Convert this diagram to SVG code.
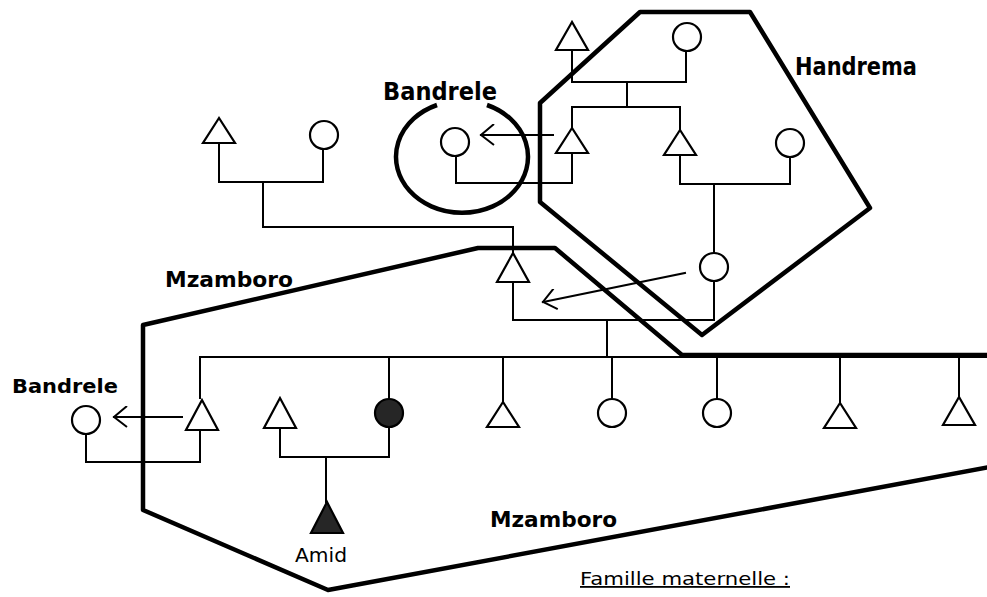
<svg xmlns="http://www.w3.org/2000/svg" width="987" height="597" viewBox="0 0 987 597">
<style>
.bg{fill:#fff}
.ln{fill:none;stroke:#000;stroke-width:2;stroke-linecap:square}
.sym{fill:#fff;stroke:#000;stroke-width:2.2;stroke-linejoin:miter}
.filled{fill:#262626;stroke:#000;stroke-width:2.2}
.grp{fill:none;stroke:#000;stroke-width:4.5;stroke-linejoin:round}
.lbl{font-family:"DejaVu Sans","Liberation Sans",sans-serif;font-weight:bold;fill:#000}
.reg{font-family:"DejaVu Sans","Liberation Sans",sans-serif;fill:#000}
</style>
<defs>
<marker id="chev" viewBox="-15 -11 17 22" refX="0" refY="0" markerWidth="17" markerHeight="22" markerUnits="userSpaceOnUse" orient="auto">
<path d="M-13,-10 L0,0 L-13,11" fill="none" stroke="#000" stroke-width="2"/>
</marker>
</defs>
<rect class="bg" x="0" y="0" width="987" height="597"/>

<g id="groups">
<polygon id="handrema-zone" class="grp" points="640,12 750,12 870,208 702,335 540,202 540,103"/>
<polyline id="mzamboro-zone" class="grp" points="990,355 682,355 555,248 478,248 143,325 143,510 328,590 990,467"/>
<path id="bandrele-zone" class="grp" d="M487,105 A66,56 0 1,1 437,105"/>
</g>

<g id="connectors">
<polyline class="ln" points="572,50 572,82 686,82 686,51"/>
<polyline class="ln" points="627,82 627,107"/>
<polyline class="ln" points="572,128 572,107 680,107 680,130"/>
<polyline class="ln" points="572,153 572,183 456,183 456,156"/>
<polyline class="ln" points="680,155 680,184 790,184 790,157"/>
<polyline class="ln" points="714,184 714,253"/>
<polyline class="ln" points="714,281 714,320 513,320 513,282"/>
<polyline class="ln" points="219,143 219,182 323,182 323,149"/>
<polyline class="ln" points="263,182 263,227 513,227 513,253"/>
<polyline class="ln" points="607,320 607,357"/>
<polyline class="ln" points="200,398 200,357 987,357"/>
<line class="ln" x1="389" y1="357" x2="389" y2="399"/>
<line class="ln" x1="503" y1="357" x2="503" y2="402"/>
<line class="ln" x1="612" y1="357" x2="612" y2="399"/>
<line class="ln" x1="717" y1="357" x2="717" y2="399"/>
<line class="ln" x1="840" y1="357" x2="840" y2="403"/>
<line class="ln" x1="959" y1="357" x2="959" y2="397"/>
<polyline class="ln" points="200,430 200,462 86,462 86,434"/>
<polyline class="ln" points="280,428 280,457 389,457 389,427"/>
<line class="ln" x1="326" y1="457" x2="326" y2="502"/>
<line class="ln" x1="553" y1="135" x2="481" y2="135" marker-end="url(#chev)"/>
<line class="ln" x1="685" y1="273" x2="543" y2="302" marker-end="url(#chev)"/>
<line class="ln" x1="182" y1="417" x2="114" y2="417" marker-end="url(#chev)"/>
</g>

<g id="n-top-m"><polygon class="sym" points="572,22 556,50 588,50"/></g>
<g id="n-top-f"><circle class="sym" cx="687" cy="37" r="14"/></g>
<g id="n-h-m1"><polygon class="sym" points="572,128 556,153 588,153"/></g>
<g id="n-h-m2"><polygon class="sym" points="680,130 664,155 696,155"/></g>
<g id="n-bandrele-f"><circle class="sym" cx="455" cy="142" r="14"/></g>
<g id="n-h-f2"><circle class="sym" cx="790" cy="143" r="14"/></g>
<g id="n-h-f3"><circle class="sym" cx="714" cy="267" r="14"/></g>
<g id="n-tl-m"><polygon class="sym" points="219,118 203,143 235,143"/></g>
<g id="n-tl-f"><circle class="sym" cx="324" cy="135" r="14"/></g>
<g id="n-mz-m"><polygon class="sym" points="513,253 497,282 529,282"/></g>
<g id="n-s1"><polygon class="sym" points="202,400 186,430 218,430"/></g>
<g id="n-bandrele-left-f"><circle class="sym" cx="86" cy="420" r="14"/></g>
<g id="n-s2"><polygon class="sym" points="280,398 264,428 296,428"/></g>
<g id="n-s3"><circle class="filled" cx="389" cy="413" r="14"/></g>
<g id="n-amid"><polygon class="filled" points="327,502 311,533 343,533"/></g>
<g id="n-s4"><polygon class="sym" points="503,402 487,427 519,427"/></g>
<g id="n-s5"><circle class="sym" cx="612" cy="413" r="14"/></g>
<g id="n-s6"><circle class="sym" cx="717" cy="413" r="14"/></g>
<g id="n-s7"><polygon class="sym" points="840,403 824,428 856,428"/></g>
<g id="n-s8"><polygon class="sym" points="959,397 943,425 975,425"/></g>

<g id="labels">
<text class="lbl" x="383" y="100" font-size="24" textLength="114" lengthAdjust="spacingAndGlyphs">Bandrele</text>
<text class="lbl" x="795" y="75" font-size="24" textLength="122" lengthAdjust="spacingAndGlyphs">Handrema</text>
<text class="lbl" x="165" y="287" font-size="21" textLength="128" lengthAdjust="spacingAndGlyphs">Mzamboro</text>
<text class="lbl" x="490" y="527" font-size="21" textLength="127" lengthAdjust="spacingAndGlyphs">Mzamboro</text>
<text class="lbl" x="12" y="393" font-size="20" textLength="106" lengthAdjust="spacingAndGlyphs">Bandrele</text>
<text class="reg" x="295" y="562" font-size="20" textLength="52" lengthAdjust="spacingAndGlyphs">Amid</text>
<text class="reg" x="580" y="585" font-size="18" textLength="210" lengthAdjust="spacingAndGlyphs" text-decoration="underline">Famille maternelle :</text>
</g>
</svg>
